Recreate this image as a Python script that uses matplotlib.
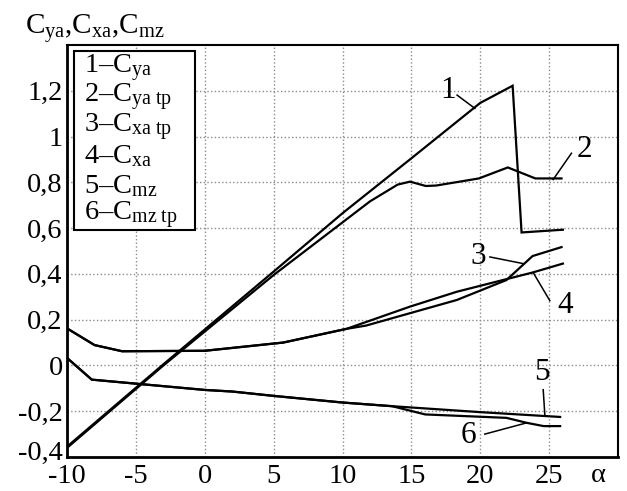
import matplotlib
matplotlib.use("Agg")
import matplotlib.pyplot as plt
from matplotlib.patches import Rectangle
from matplotlib.transforms import ScaledTranslation

plt.rcParams['font.family'] = ['Liberation Serif', 'DejaVu Serif']
plt.rcParams['mathtext.fontset'] = 'custom'
plt.rcParams['mathtext.rm'] = 'Liberation Serif'
plt.rcParams['mathtext.it'] = 'Liberation Serif:italic'
plt.rcParams['mathtext.bf'] = 'Liberation Serif:bold'

# ---- data ----
alpha_cya = [-10, -3.1, 5, 10, 15, 20, 22.35, 23.0, 26]
cya = [-0.355, 0.0, 0.41, 0.665, 0.905, 1.147, 1.222, 0.581, 0.593]

alpha_cya_tp = [-10, -3.0, 5, 12, 14, 14.9, 16.05, 16.8, 19.9, 22, 24, 25.9]
cya_tp = [-0.36, 0.0, 0.395, 0.717, 0.79, 0.803, 0.784, 0.786, 0.817, 0.865, 0.817, 0.817]

alpha_cxa_tp = [-10, -8, -6, 0, 5.7, 10.3, 11.7, 18.3, 21.9, 23.8, 25.9]
cxa_tp = [0.162, 0.089, 0.062, 0.064, 0.1, 0.16, 0.174, 0.286, 0.373, 0.478, 0.517]

alpha_cxa = [-10, -8, -6, 0, 5.7, 10.3, 14.9, 18.3, 21.9, 23.8, 26]
cxa = [0.162, 0.089, 0.062, 0.064, 0.1, 0.16, 0.257, 0.322, 0.377, 0.406, 0.445]

alpha_cmz = [-10, -8.2, 0, 2, 5, 10, 13.6, 20, 25.8]
cmz = [0.033, -0.062, -0.107, -0.114, -0.133, -0.162, -0.178, -0.204, -0.225]

alpha_cmz_tp = [-10, -8.2, 0, 2, 5, 10, 13.6, 16, 21.9, 23.4, 24.6, 25.8]
cmz_tp = [0.033, -0.062, -0.107, -0.114, -0.133, -0.162, -0.178, -0.214, -0.229, -0.251, -0.265, -0.265]

x_ticks = [-10, -5, 0, 5, 10, 15, 20, 25]
x_tick_labels = ['-10', '-5', '0', '5', '10', '15', '20', '25']
y_ticks = [-0.4, -0.2, 0, 0.2, 0.4, 0.6, 0.8, 1.0, 1.2]
y_tick_labels = ['-0,4', '-0,2', '0', '0,2', '0,4', '0,6', '0,8', '1', '1,2']

legend_labels = [
    '1–$\\mathrm{C_{ya}}$',
    '2–$\\mathrm{C_{ya\\ tp}}$',
    '3–$\\mathrm{C_{xa\\ tp}}$',
    '4–$\\mathrm{C_{xa}}$',
    '5–$\\mathrm{C_{mz}}$',
    '6–$\\mathrm{C_{mz\\ tp}}$',
]
curve_numbers = ['1', '2', '3', '4', '5', '6']

# ---- figure ----
W, H = 627, 491
fig = plt.figure(figsize=(W/100, H/100), dpi=100)
ax = fig.add_axes([67/W, 1-457/H, (618-67)/W, (457-45)/H])

lw = 1.6
series = [(alpha_cya, cya), (alpha_cya_tp, cya_tp), (alpha_cxa_tp, cxa_tp),
          (alpha_cxa, cxa), (alpha_cmz, cmz), (alpha_cmz_tp, cmz_tp)]
for xs, ys in series:
    ax.plot(xs, ys, color='black', lw=lw, solid_joinstyle='miter')

ax.set_xlim(-10, 30)
ax.set_ylim(-0.4, 1.4)
ax.set_xticks(x_ticks)
ax.set_xticklabels(x_tick_labels)
ax.set_yticks(y_ticks)
ax.set_yticklabels(y_tick_labels)
ax.tick_params(axis='both', length=0, labelsize=20.5)
ax.tick_params(axis='x', pad=5)
ax.tick_params(axis='y', pad=3)
ax.grid(True, color='0.55', linestyle=':', linewidth=1.0)
ax.set_axisbelow(True)
for side in ['left', 'bottom']:
    ax.spines[side].set_linewidth(2.0)
for side in ['top', 'right']:
    ax.spines[side].set_linewidth(1.5)

# lift the lowest y tick label slightly (as in the reference)
lowest = ax.get_yticklabels()[0]
lowest.set_transform(lowest.get_transform() + ScaledTranslation(0, 7/100, fig.dpi_scale_trans))

# legend box (text-only entries)
fig.patches.append(Rectangle((74/W, 1-230/H), (195-74)/W, (230-51)/H,
                             transform=fig.transFigure, facecolor='white',
                             edgecolor='black', linewidth=1.5, zorder=5))
entry_y = [68, 97.5, 127, 156.5, 186, 215]
for lab, yy in zip(legend_labels, entry_y):
    fig.text(84/W, 1-yy/H, lab, fontsize=20.5, ha='left', va='center', zorder=6)

# curve number labels with leader lines
label_pos = [(17.67, 1.20), (27.59, 0.945), (19.85, 0.478), (26.19, 0.261), (24.49, -0.029), (19.12, -0.304)]
leader_start = [(18.32, 1.181), (26.62, 0.927), (20.7, 0.474), (25.05, 0.283), (24.57, -0.106), (20.33, -0.300)]
leader_end = [(19.61, 1.123), (25.29, 0.812), (23.11, 0.445), (23.84, 0.406), (24.69, -0.217), (23.36, -0.251)]
for num, p, s, e in zip(curve_numbers, label_pos, leader_start, leader_end):
    ax.text(p[0], p[1], num, fontsize=22.5, ha='center', va='center')
    ax.plot([s[0], e[0]], [s[1], e[1]], color='black', lw=1.1)

fig.text(25/W, 1-34/H, '$\\mathrm{C_{ya}}$,$\\mathrm{C_{xa}}$,$\\mathrm{C_{mz}}$',
         fontsize=21, ha='left', va='baseline')
fig.text(598/W, 1-476/H, 'α', fontsize=20.5, ha='center', va='center')

fig.savefig('out.png', dpi=100)
